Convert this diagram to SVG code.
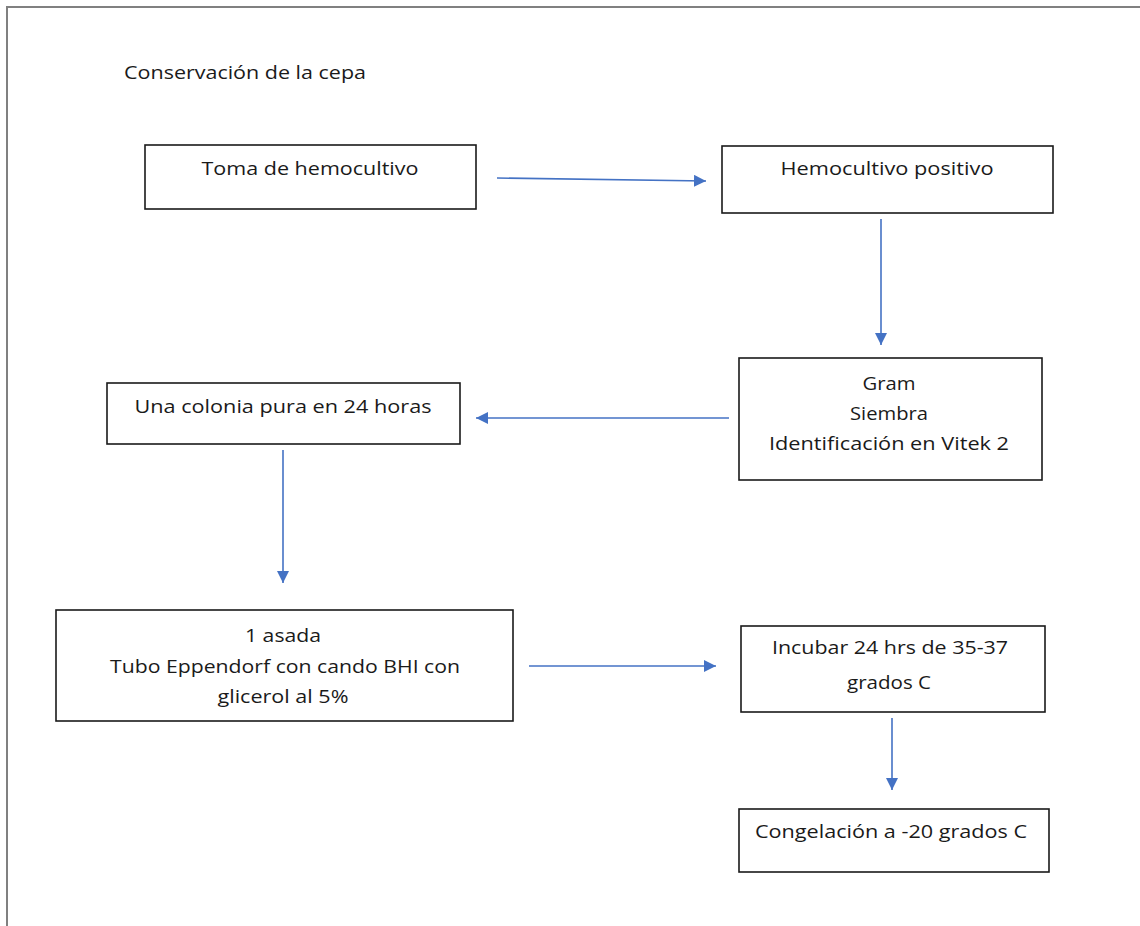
<svg xmlns="http://www.w3.org/2000/svg" width="1140" height="926" viewBox="0 0 1140 926">
<style>
.box{fill:#fff;stroke:#1a1a1a;stroke-width:1.6}
.t{font-family:"Open Sans","Noto Sans","DejaVu Sans",sans-serif;font-size:18.5px;fill:#1a1a1a;text-anchor:middle}
.c{stroke:#4472C4;stroke-width:1.6;fill:none;marker-end:url(#ah)}
</style>
<defs>
<marker id="ah" markerUnits="userSpaceOnUse" markerWidth="12" markerHeight="12" refX="12" refY="6" orient="auto">
<path d="M0,0 L12,6 L0,12 z" fill="#4472C4"/>
</marker>
</defs>
<rect x="0" y="0" width="1140" height="926" fill="#fff"/>
<path d="M7,926 V7 H1140" fill="none" stroke="#808080" stroke-width="2"/>
<text class="t" x="124" y="79" style="text-anchor:start" textLength="242" lengthAdjust="spacingAndGlyphs">Conservación de la cepa</text>
<g id="connectors">
<line class="c" x1="497" y1="178" x2="706" y2="181"/>
<line class="c" x1="881" y1="219" x2="881" y2="345"/>
<line class="c" x1="729" y1="418" x2="476" y2="418"/>
<line class="c" x1="283" y1="450" x2="283" y2="583"/>
<line class="c" x1="529" y1="666" x2="716" y2="666"/>
<line class="c" x1="892" y1="718" x2="892" y2="790"/>
</g>
<g id="n1"><rect class="box" x="145" y="145" width="331" height="64"/>
<text class="t" x="310" y="175" textLength="217" lengthAdjust="spacingAndGlyphs">Toma de hemocultivo</text></g>
<g id="n2"><rect class="box" x="722" y="146" width="331" height="67"/>
<text class="t" x="887" y="175" textLength="213" lengthAdjust="spacingAndGlyphs">Hemocultivo positivo</text></g>
<g id="n3"><rect class="box" x="739" y="358" width="303" height="122"/>
<text class="t" x="889" y="390" textLength="53" lengthAdjust="spacingAndGlyphs">Gram</text>
<text class="t" x="889" y="420" textLength="78" lengthAdjust="spacingAndGlyphs">Siembra</text>
<text class="t" x="889" y="450" textLength="240" lengthAdjust="spacingAndGlyphs">Identificación en Vitek 2</text></g>
<g id="n4"><rect class="box" x="107" y="383" width="353" height="61"/>
<text class="t" x="283" y="413" textLength="297" lengthAdjust="spacingAndGlyphs">Una colonia pura en 24 horas</text></g>
<g id="n5"><rect class="box" x="56" y="610" width="457" height="111"/>
<text class="t" x="283" y="642" textLength="76" lengthAdjust="spacingAndGlyphs">1 asada</text>
<text class="t" x="285" y="673" textLength="350" lengthAdjust="spacingAndGlyphs">Tubo Eppendorf con cando BHI con</text>
<text class="t" x="283" y="703" textLength="131" lengthAdjust="spacingAndGlyphs">glicerol al 5%</text></g>
<g id="n6"><rect class="box" x="741" y="626" width="304" height="86"/>
<text class="t" x="890" y="654" textLength="236" lengthAdjust="spacingAndGlyphs">Incubar 24 hrs de 35-37</text>
<text class="t" x="889" y="689" textLength="84" lengthAdjust="spacingAndGlyphs">grados C</text></g>
<g id="n7"><rect class="box" x="739" y="809" width="310" height="63"/>
<text class="t" x="891" y="838" textLength="272" lengthAdjust="spacingAndGlyphs">Congelación a -20 grados C</text></g>
</svg>
